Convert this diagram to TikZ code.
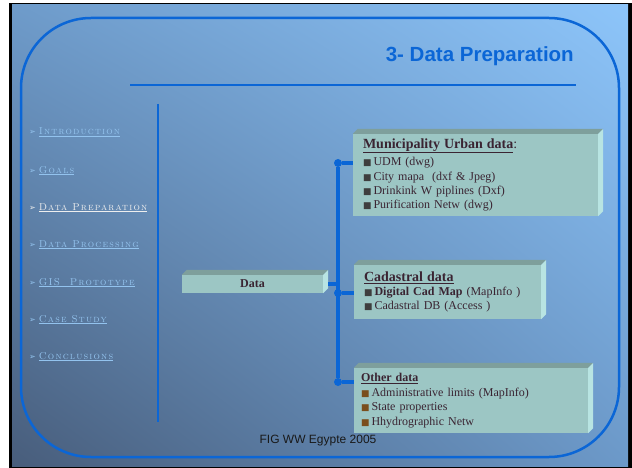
\documentclass[tikz,border=0pt]{standalone}
\usepackage{fontspec}
\usetikzlibrary{shadings}
\setmainfont{Liberation Serif}
\newfontfamily\arialf{Liberation Sans}
\newfontfamily\symf{DejaVu Sans}
\newfontfamily\menuf[LetterSpace=12,SmallCapsFont={Latin Modern Roman Caps}]{Latin Modern Roman}
\definecolor{framebl}{HTML}{0B66D6}
\definecolor{menubl}{HTML}{93C3EE}
\definecolor{menuon}{HTML}{EEEEEE}
\definecolor{bgul}{HTML}{6E9BCA}
\definecolor{bgur}{HTML}{8DC5FA}
\definecolor{bgll}{HTML}{485D7B}
\definecolor{bglr}{HTML}{6C99C9}
\definecolor{boxfront}{HTML}{9CC6C4}
\definecolor{boxtop}{HTML}{7E9F9C}
\definecolor{boxside}{HTML}{B8E4E2}
\definecolor{boxtxt}{HTML}{3A2432}
\definecolor{icongray}{HTML}{3E3E3E}
\definecolor{iconbrown}{HTML}{7A4E1C}
\newcommand{\itm}[1]{{\symf\color{#1}\fontsize{9}{9}\selectfont■}\,}
\tikzset{
  menu/.style={anchor=base west,inner sep=0,text=menubl,font=\menuf\fontsize{10}{12}\selectfont\scshape},
  bx/.style={fill=boxfront,inner ysep=0,align=left,text=boxtxt,font=\fontsize{12}{14.3}\selectfont},
  bus/.style={draw=framebl,line width=3.5},
  dot/.style={circle,fill=framebl,inner sep=0,minimum size=8}
}
\begin{document}
\begin{tikzpicture}[x=1pt,y=-1pt]
\useasboundingbox (0,0) rectangle (632,468);
\fill[black] (9,3) rectangle (632,468);
\shade[upper left=bgul,upper right=bgur,lower left=bgll,lower right=bglr] (12,4.5) rectangle (628,466);
\draw[framebl,line width=2.5,rounded corners=70] (21,18) rectangle (619,457);

\node[anchor=base east,inner sep=0,text=framebl,font=\arialf\bfseries\fontsize{20.5}{24}\selectfont] (t) at (574,62) {3- Data Preparation};
\draw[framebl,line width=2] (130,85) -- (576,85);
\draw[framebl,line width=1.5] (158,104) -- (158,422);

\node[menu] (m0) at (29,135) {{\symf\fontsize{8}{8}\selectfont ➢}\hspace{3pt}\underline{Introduction}};
\node[menu] (m1) at (29,173) {{\symf\fontsize{8}{8}\selectfont ➢}\hspace{3pt}\underline{Goals}};
\node[menu,text=menuon] (m2) at (29,210) {{\symf\fontsize{8}{8}\selectfont ➢}\hspace{3pt}\underline{Data Preparation}};
\node[menu] (m3) at (29,247) {{\symf\fontsize{8}{8}\selectfont ➢}\hspace{3pt}\underline{Data Processing}};
\node[menu] (m4) at (29,285) {{\symf\fontsize{8}{8}\selectfont ➢}\hspace{3pt}\underline{GIS\ \ Prototype}};
\node[menu] (m5) at (29,322) {{\symf\fontsize{8}{8}\selectfont ➢}\hspace{3pt}\underline{Case Study}};
\node[menu] (m6) at (29,359) {{\symf\fontsize{8}{8}\selectfont ➢}\hspace{3pt}\underline{Conclusions}};

\node[bx,align=center,text width=141,inner xsep=0,minimum height=18,font=\bfseries\fontsize{12}{14}\selectfont] (d) at (252.5,284) {Data};
\node[bx,text width=225,inner xsep=10,minimum height=82,font=\fontsize{12}{14.4}\selectfont] (u) at (475.5,175) {{\fontsize{14}{16}\selectfont\bfseries\underline{Municipality Urban data}}{\fontsize{14}{16}\selectfont:}\\[3pt]
  \itm{icongray}UDM (dwg)\\
  \itm{icongray}City mapa~ (dxf \& Jpeg)\\
  \itm{icongray}Drinkink W piplines (Dxf)\\
  \itm{icongray}Purification Netw (dwg)};
\node[bx,text width=167,inner xsep=10,minimum height=54] (c) at (447.5,292) {{\fontsize{14}{16}\selectfont\bfseries\underline{Cadastral data}}\\
  \itm{icongray}\textbf{Digital Cad Map} (MapInfo )\\
  \itm{icongray}Cadastral DB (Access )};
\node[bx,text width=220,inner xsep=7,minimum height=65,font=\fontsize{12}{14.5}\selectfont] (o) at (471,400.5) {\textbf{\underline{Other data}}\\
  \itm{iconbrown}Administrative limits (MapInfo)\\
  \itm{iconbrown}State properties\\
  \itm{iconbrown}Hhydrographic Netw};

\foreach \b in {d,u,c,o} {
  \fill[boxtop] (\b.north west) -- ++(5,-5) -- ([shift={(5,-5)}]\b.north east) -- (\b.north east) -- cycle;
  \fill[boxside] (\b.north east) -- ++(5,-5) -- ([shift={(5,-5)}]\b.south east) -- (\b.south east) -- cycle;
}

\node[dot] (j1) at (338,163) {};
\node[dot] (j2) at (338,293) {};
\node[dot] (j3) at (338,382) {};
\draw[bus] (j1) -- (j3);
\draw[bus] ([xshift=5]d.east) -- (d.east -| j1);
\draw[bus] (j1) -- (u.west |- j1);
\draw[bus] (j2) -- (c.west |- j2);
\draw[bus] (j3) -- (o.west |- j3);

\node[anchor=base,inner sep=0,text=black!90,font=\arialf\fontsize{12}{14}\selectfont] (f) at (318,443) {FIG WW Egypte 2005};
\end{tikzpicture}
\end{document}
